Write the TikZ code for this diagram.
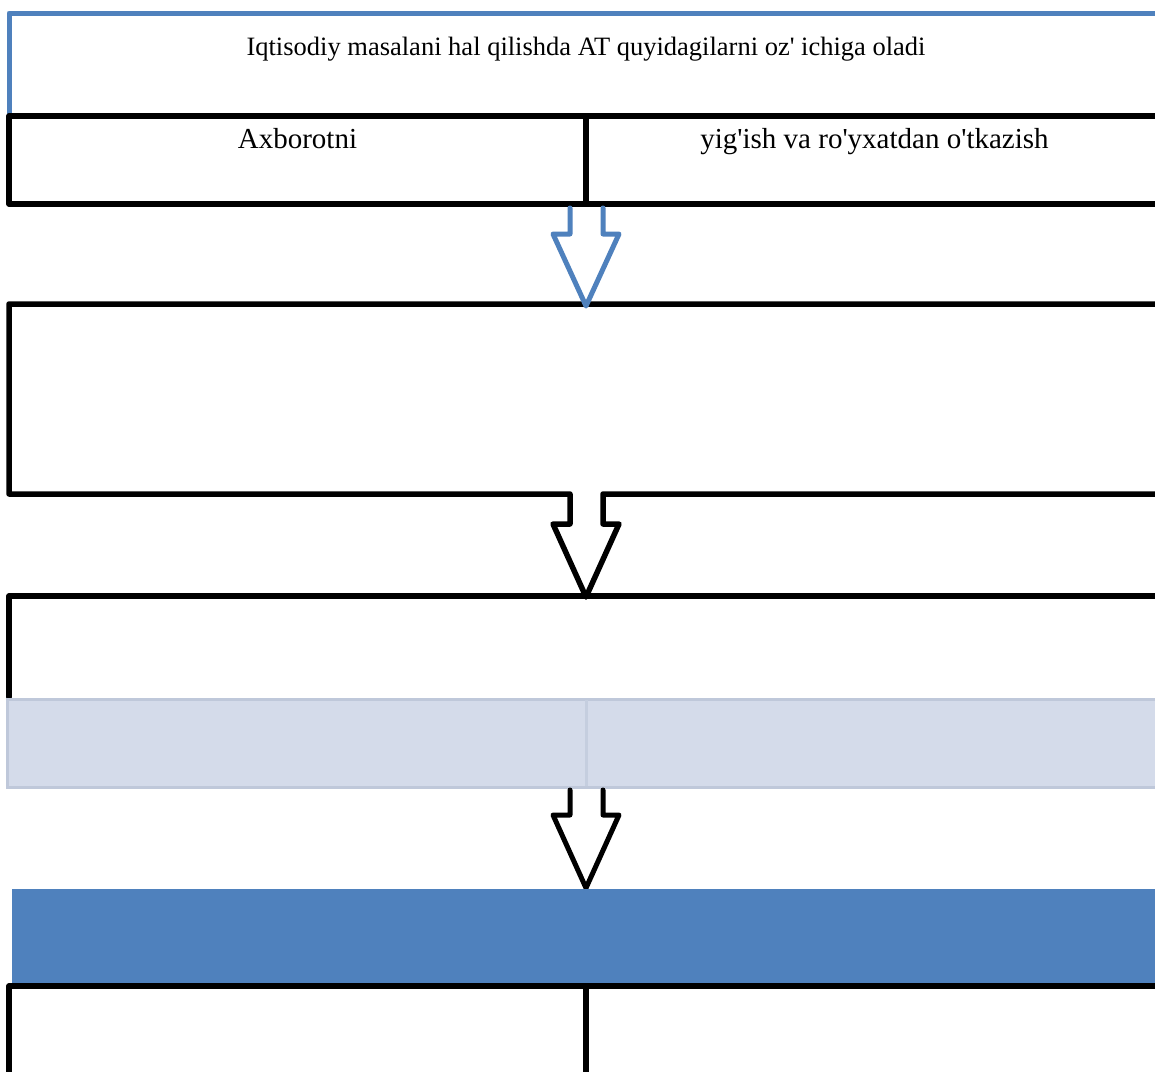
\documentclass[tikz,border=0pt]{standalone}
\usepackage{fontspec}
\setmainfont{Liberation Serif}
\definecolor{accent}{HTML}{4F81BD}
\definecolor{paleband}{HTML}{D4DBEA}
\definecolor{paleedge}{HTML}{BFC8DA}
\newcommand{\apos}{\textquotesingle}
\begin{document}
\begin{tikzpicture}[x=1pt,y=-1pt,
  frame/.style={draw=black,line width=5.5pt,line join=round,line cap=round},
  blueframe/.style={draw=accent,line width=5pt,line join=round},
  blockarrow/.style={line width=5pt,line join=round,line cap=round,fill=white},
  label/.style={anchor=base,inner sep=0pt,font=\fontsize{29}{34}\selectfont},
  title/.style={anchor=base,inner sep=0pt,font=\fontsize{26.5}{31}\selectfont}]
\useasboundingbox (0,0) rectangle (1155,1071);
\fill[white] (0,0) rectangle (1155,1071);
\begin{scope}
\clip (0,0) rectangle (1155,1071);

% header box (blue outline)
\draw[blueframe] (9,116) -- (9,13) -- (1170,13);
\node[title] (head) at (586,55) {Iqtisodiy masalani hal qilishda AT quyidagilarni oz\apos{} ichiga oladi};

% two-cell row
\draw[frame] (1170,116) -- (9,116) -- (9,204) -- (1170,204);
\draw[frame] (586,116) -- (586,204);
\node[label] (cellA) at (297.5,148) {Axborotni};
\node[label] (cellB) at (874.5,148) {yig\apos{}ish va ro\apos{}yxatdan o\apos{}tkazish};

% second box, its bottom edge runs into a block arrow
\draw[frame] (1170,304) -- (9,304) -- (9,494) -- (570,494) -- (570,524)
  -- (553,524) -- (586,597) -- (619,524) -- (603,524) -- (603,494) -- (1170,494);

% blue block arrow between the row and the second box
\draw[blockarrow,draw=accent] (570,208) -- (570,234) -- (553,234) -- (586,306)
  -- (619,234) -- (603,234) -- (603,208);

% third box
\draw[frame] (1170,596) -- (9,596) -- (9,697);

% pale band
\draw[fill=paleband,draw=paleedge,line width=3pt] (7,699) rectangle (1170,787);
\draw[draw=paleedge!70!paleband,line width=3pt] (586,700) -- (586,786);

% black block arrow below the band
\draw[blockarrow,draw=black] (570,790) -- (570,815) -- (553,815) -- (586,888)
  -- (619,815) -- (603,815) -- (603,790);

% solid blue band
\fill[accent] (12,889) rectangle (1170,984);

% bottom row
\draw[frame] (1170,986) -- (9,986) -- (9,1080);
\draw[frame] (586,986) -- (586,1080);
\end{scope}
\end{tikzpicture}
\end{document}
